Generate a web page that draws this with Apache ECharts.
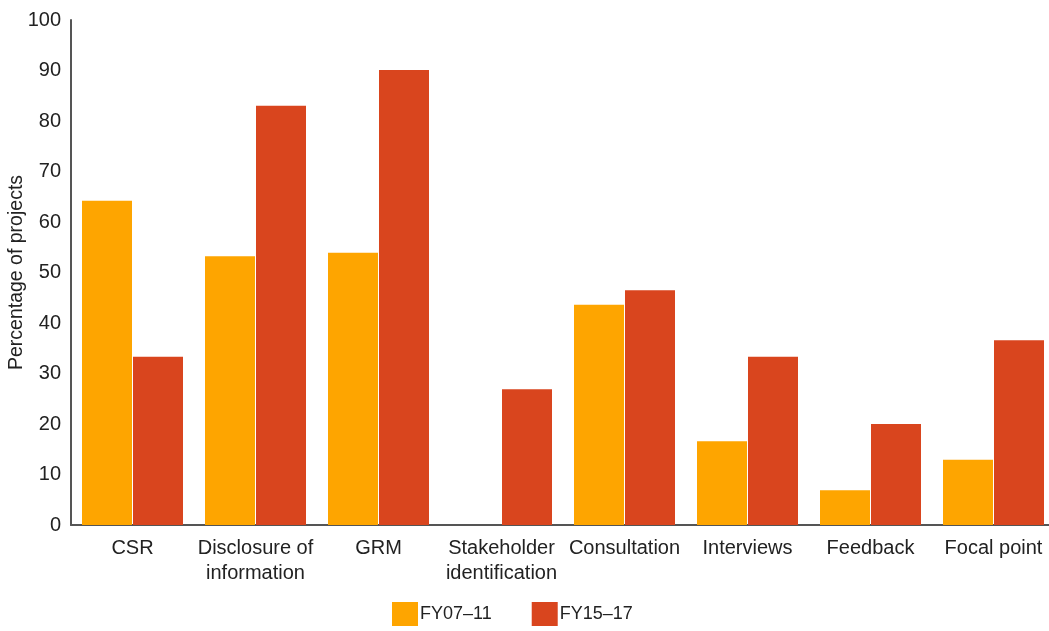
<!DOCTYPE html>
<html><head><meta charset="utf-8">
<script src="https://cdn.jsdelivr.net/npm/echarts@6/dist/echarts.min.js"></script>
<style>html,body{margin:0;padding:0;background:#fff}#c{width:1049px;height:631px}</style>
</head><body><div id="c"></div>
<script>
const categories = ['CSR','Disclosure of\ninformation','GRM','Stakeholder\nidentification','Consultation','Interviews','Feedback','Focal point'];
const fy0711 = [64.2, 53.2, 53.9, 0, 43.6, 16.6, 6.9, 12.9];
const fy1517 = [33.3, 83.0, 90.1, 26.9, 46.5, 33.3, 20.0, 36.6];
const seriesNames = ['FY07–11','FY15–17'];
const FONT = 'Liberation Sans, Helvetica, Arial, sans-serif';
const chart = echarts.init(document.getElementById('c'), null, {renderer:'canvas'});
chart.setOption({
  animation:false,
  textStyle:{fontFamily:FONT},
  grid:{left:71,right:-6,top:20,bottom:106,containLabel:false,outerBoundsMode:'none'},
  legend:{
    bottom:0,left:387,itemWidth:26,itemHeight:24,itemGap:40,
    icon:'rect',
    textStyle:{fontSize:18,color:'#222',fontFamily:FONT,padding:[0,0,0,-3]},
    data:seriesNames
  },
  xAxis:{
    type:'category',data:categories,
    axisLine:{lineStyle:{color:'#555',width:2}},
    axisTick:{show:false},
    axisLabel:{interval:0,fontSize:20,color:'#222',margin:11,lineHeight:25,fontFamily:FONT}
  },
  yAxis:{
    type:'value',min:0,max:100,interval:10,
    name:'Percentage of projects',nameLocation:'middle',nameGap:44,nameMoveOverlap:false,
    nameTextStyle:{fontSize:19.5,color:'#222',fontFamily:FONT},
    axisLine:{show:true,lineStyle:{color:'#555',width:2}},
    axisTick:{show:false},
    splitLine:{show:false},
    axisLabel:{fontSize:20,color:'#222',margin:10,fontFamily:FONT}
  },
  series:[
    {name:seriesNames[0],type:'bar',data:fy0711,barWidth:50,barGap:'2%',itemStyle:{color:'#FEA500'}},
    {name:seriesNames[1],type:'bar',data:fy1517,barWidth:50,barGap:'2%',itemStyle:{color:'#D9451E'}}
  ]
});
</script></body></html>
